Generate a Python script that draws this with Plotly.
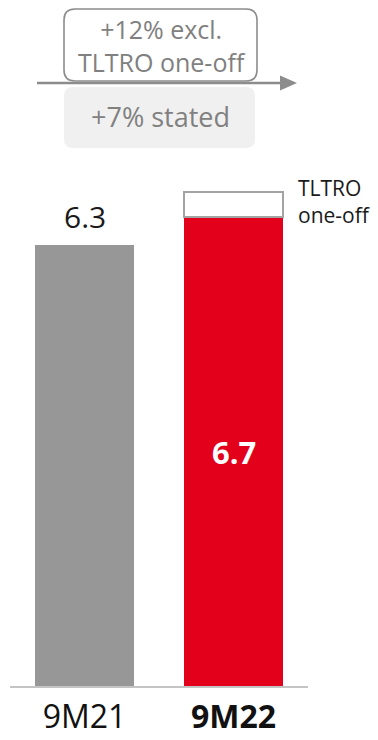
import plotly.graph_objects as go

# ---- data ----
categories = ["9M21", "9M22"]
tick_labels = ["9M21", "<b>9M22</b>"]
stated_values = [6.3, 6.7]
tltro_one_off = [None, 0.35]
value_labels = ["6.3", "6.7"]
growth_excl_lines = ["+12% excl.", "TLTRO one-off"]
growth_stated = "+7% stated"
one_off_label_lines = ["TLTRO", "one-off"]

# ---- geometry helpers (figure pixels -> paper coords) ----
W, H = 378, 740
ML, MR, MT, MB = 10, 70, 0, 53
PW, PH = W - ML - MR, H - MT - MB


def px(x):
    return (x - ML) / PW


def py(y):
    return (MT + PH - y) / PH


FONT = "Open Sans"
GRAY_TXT = "#808080"

fig = go.Figure()
fig.add_trace(go.Bar(
    x=[0, 1], y=stated_values, width=0.67,
    marker=dict(color=["#979797", "#e3001b"], line=dict(width=0)),
    hoverinfo="skip", showlegend=False,
))
fig.add_trace(go.Bar(
    x=[0, 1], y=tltro_one_off, width=0.67,
    marker=dict(color="white", line=dict(width=2, color="#a3a3a3")),
    hoverinfo="skip", showlegend=False,
))

annotations = []
# value labels
annotations.append(dict(x=0, y=stated_values[0], xref="x", yref="y", text=value_labels[0],
                        showarrow=False, yanchor="bottom", yshift=6,
                        font=dict(family=FONT, size=30, color="#1a1a1a")))
annotations.append(dict(x=1, y=stated_values[1] / 2, xref="x", yref="y", text="<b>" + value_labels[1] + "</b>",
                        showarrow=False, yanchor="middle",
                        font=dict(family=FONT, size=31, color="white")))
# TLTRO one-off label
annotations.append(dict(x=px(296), y=py(202), xref="paper", yref="paper",
                        text="<br>".join(one_off_label_lines),
                        showarrow=False, xanchor="left", yanchor="middle", align="left",
                        font=dict(family=FONT, size=21, color="#1a1a1a")))
# growth boxes text
annotations.append(dict(x=px(161), y=py(45), xref="paper", yref="paper",
                        text="<br>".join(growth_excl_lines),
                        showarrow=False, xanchor="center", yanchor="middle", align="center",
                        font=dict(family=FONT, size=25, color=GRAY_TXT)))
annotations.append(dict(x=px(160), y=py(116), xref="paper", yref="paper", text=growth_stated,
                        showarrow=False, xanchor="center", yanchor="middle",
                        font=dict(family=FONT, size=27, color=GRAY_TXT)))


def rrect(x0, y0, x1, y1, r):
    rx, ry = r / PW, r / PH
    X0, X1 = px(x0), px(x1)
    Y0, Y1 = py(y0), py(y1)  # Y0 top (larger), Y1 bottom
    return (f"M {X0+rx},{Y0} L {X1-rx},{Y0} Q {X1},{Y0} {X1},{Y0-ry} "
            f"L {X1},{Y1+ry} Q {X1},{Y1} {X1-rx},{Y1} L {X0+rx},{Y1} "
            f"Q {X0},{Y1} {X0},{Y1+ry} L {X0},{Y0-ry} Q {X0},{Y0} {X0+rx},{Y0} Z")


shapes = [
    # stated box (light fill)
    dict(type="path", xref="paper", yref="paper", path=rrect(64, 87, 255, 148, 9),
         fillcolor="#f0f0f0", line=dict(width=0), layer="below"),
    # arrow line
    dict(type="line", xref="paper", yref="paper", x0=px(37), x1=px(282), y0=py(83), y1=py(83),
         line=dict(color="#8c8c8c", width=2.5)),
    # arrow head
    dict(type="path", xref="paper", yref="paper",
         path=f"M {px(280)},{py(75.5)} L {px(297)},{py(83)} L {px(280)},{py(90.5)} Z",
         fillcolor="#8c8c8c", line=dict(width=0)),
    # excl box (white with border)
    dict(type="path", xref="paper", yref="paper", path=rrect(64, 9, 257, 81, 11),
         fillcolor="white", line=dict(color="#8c8c8c", width=1.6)),
    # baseline
    dict(type="line", xref="paper", yref="paper", x0=0, x1=1, y0=0, y1=0,
         line=dict(color="#c4c4c4", width=2)),
]

fig.update_layout(
    width=W, height=H,
    margin=dict(l=ML, r=MR, t=MT, b=MB, autoexpand=False),
    barmode="stack",
    paper_bgcolor="white", plot_bgcolor="white",
    showlegend=False,
    annotations=annotations,
    shapes=shapes,
    xaxis=dict(range=[-0.5, 1.5], tickvals=[0, 1], ticktext=tick_labels,
               showgrid=False, zeroline=False, showline=False, ticks="",
               ticklabelstandoff=8, automargin=False,
               tickfont=dict(family=FONT, size=32, color="#111111"), fixedrange=True),
    yaxis=dict(range=[0, 6.3 * PH / 442], visible=False, fixedrange=True),
)

fig.write_html("out.html")
